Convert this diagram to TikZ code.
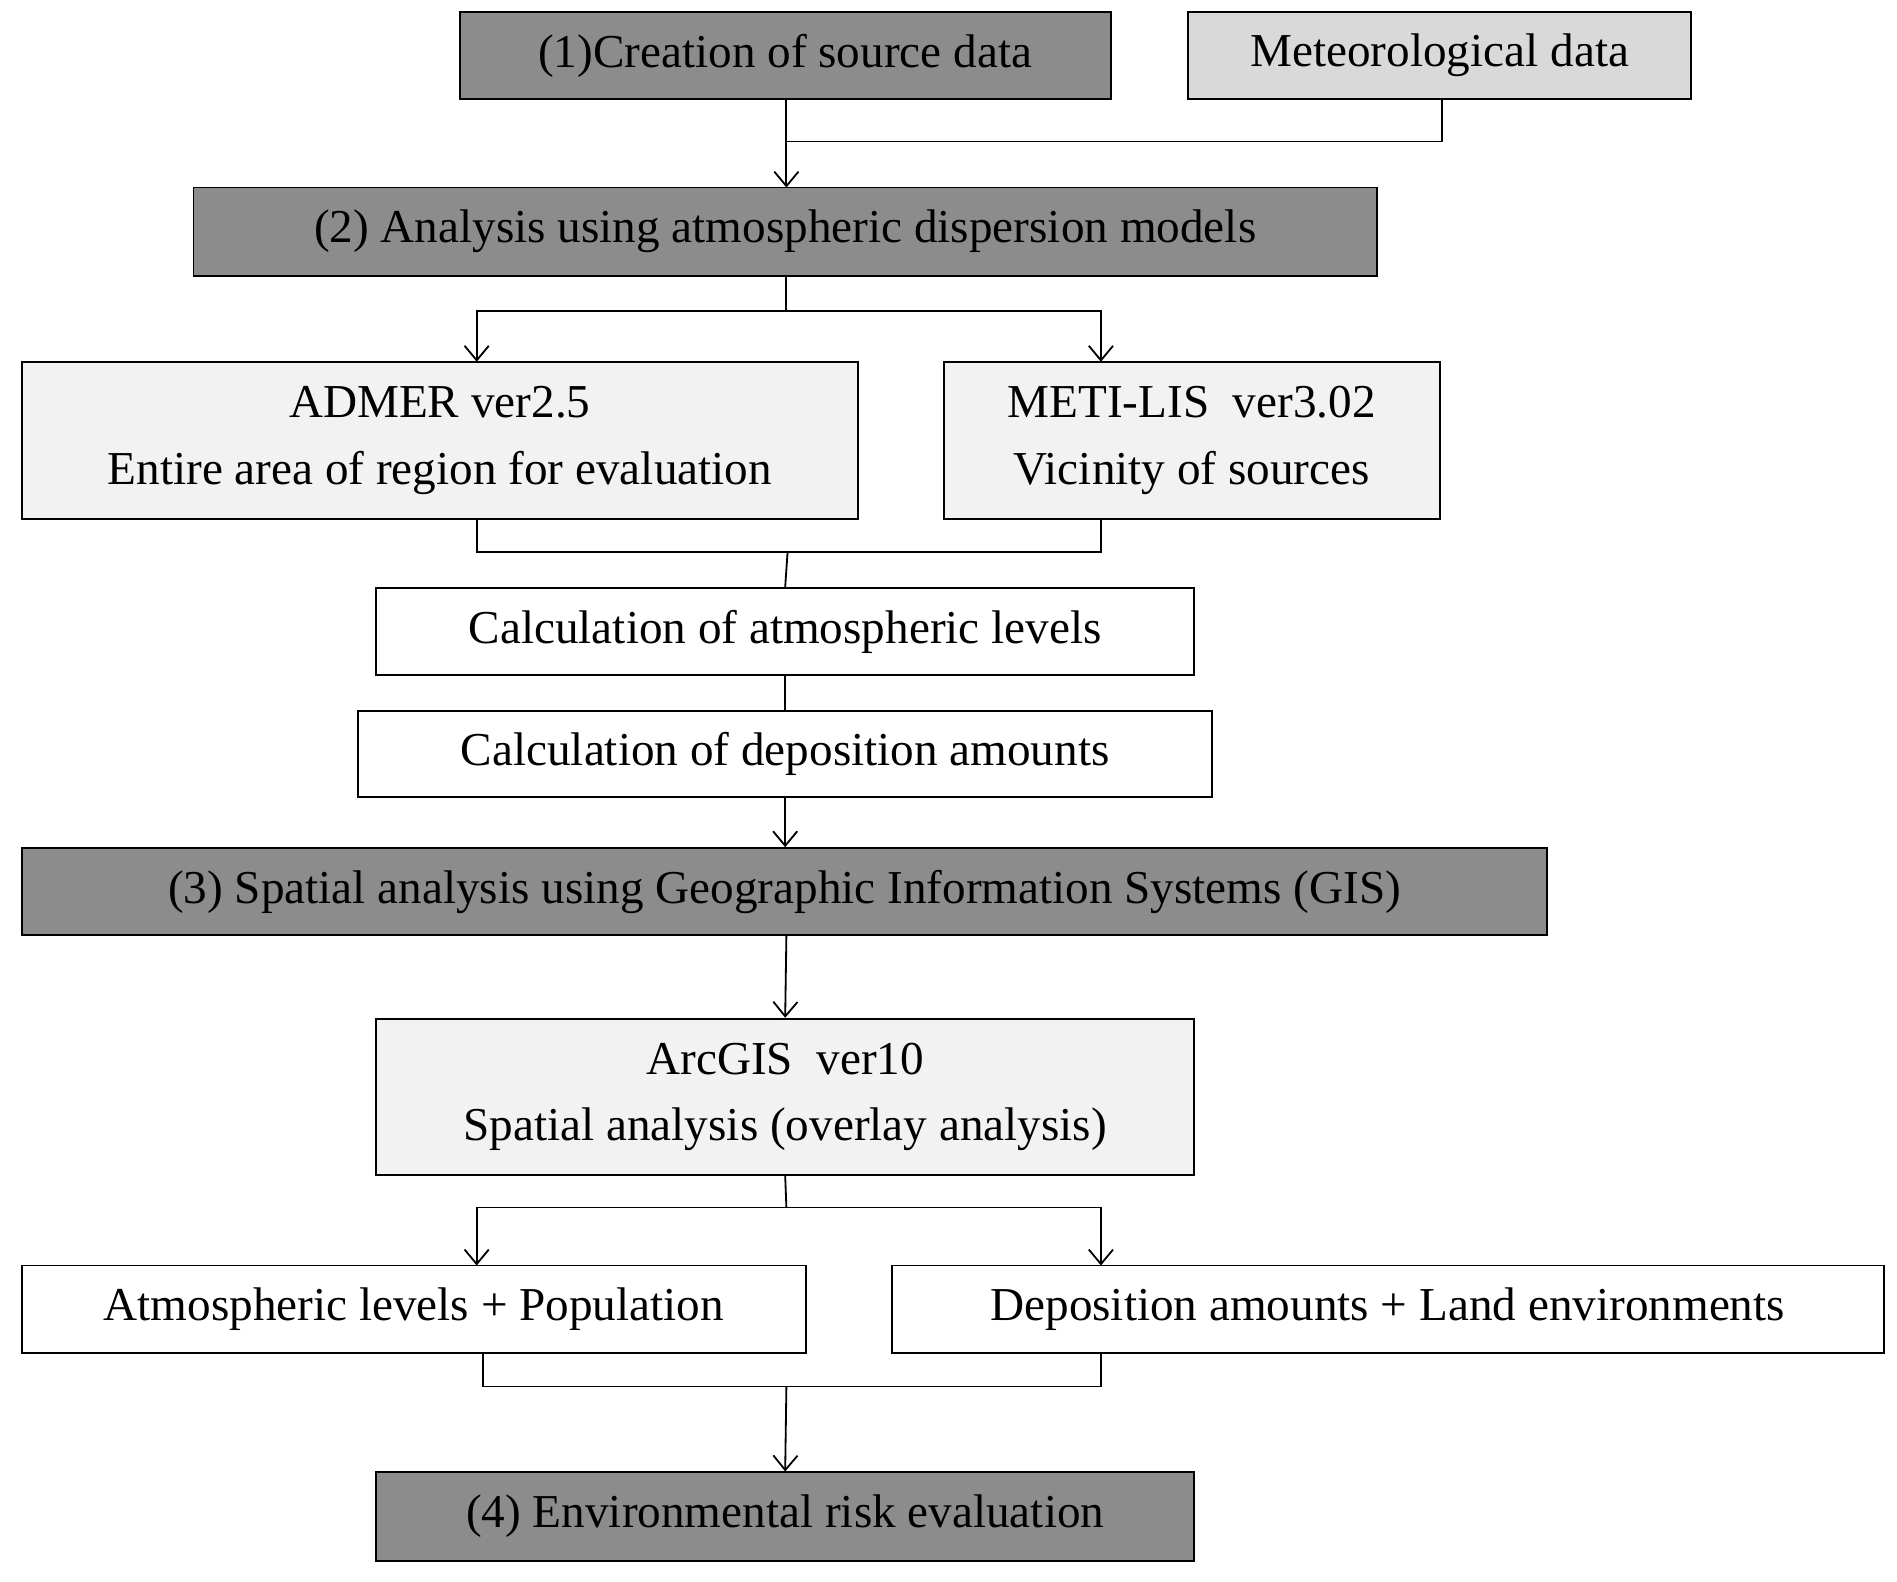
\documentclass[tikz,border=0pt]{standalone}
\usepackage{fontspec}
\setmainfont{Liberation Serif}
\usetikzlibrary{arrows.meta}
\definecolor{dk}{HTML}{8C8C8C}
\definecolor{md}{HTML}{D9D9D9}
\definecolor{lt}{HTML}{F2F2F2}
\begin{document}
\begin{tikzpicture}[x=1pt,y=-1pt,
  bx/.style={draw=black,line width=1.5pt,inner sep=0pt,align=center,font=\fontsize{39}{55}\selectfont},
  ln/.style={line width=1.5pt},
  ar/.style={ln,-{Straight Barb[length=12pt,width=20pt]}}]
\useasboundingbox (0,0) rectangle (1568,1307);
\def\bx#1#2#3#4#5#6#7{\node[bx,fill=#6,minimum width=#3-#1,minimum height=#4-#2] (#5) at ({(#1+#3)/2},{(#2+#4)/2}) {#7};}
\bx{380}{10}{918}{82}{b1}{dk}{(1)Creation of source data}
\bx{982}{10}{1398}{82}{met}{md}{Meteorological data}
\bx{160}{155}{1138}{228}{b2}{dk}{(2) Analysis using atmospheric dispersion models}
\bx{18}{299}{709}{429}{adm}{lt}{ADMER ver2.5\\Entire area of region for evaluation}
\bx{780}{299}{1190}{429}{meti}{lt}{METI-LIS\ \ ver3.02\\Vicinity of sources}
\bx{311}{486}{987}{558}{ca}{white}{Calculation of atmospheric levels}
\bx{296}{588}{1002}{659}{cd}{white}{Calculation of deposition amounts}
\bx{18}{701}{1279}{773}{b3}{dk}{(3) Spatial analysis using Geographic Information Systems (GIS)}
\bx{311}{842}{987}{971}{arc}{lt}{ArcGIS\ \ ver10\\Spatial analysis (overlay analysis)}
\bx{18}{1046}{666}{1118}{ap}{white}{Atmospheric levels + Population}
\bx{737}{1046}{1557}{1118}{dp}{white}{Deposition amounts + Land environments}
\bx{311}{1217}{987}{1290}{b4}{dk}{(4) Environmental risk evaluation}
\coordinate (m1) at (650,117);
\draw[ar] (650,82) -- (650,155);
\draw[ln] (1192,82) |- (m1);
\draw[ln] (650,228) -- (650,257);
\draw[ar] (650,257) -| (394,299);
\draw[ar] (650,257) -| (910,299);
\draw[ln] (394,429) |- (910,456) -- (910,429);
\draw[ln] (651,456) -- (ca.north);
\draw[ln] (ca.south) -- (cd.north);
\draw[ar] (cd.south) -- (b3.north -| cd.south);
\draw[ar] (650,773) -- (arc.north);
\draw[ln] (arc.south) -- (650,998);
\draw[ar] (650,998) -| (394,1046);
\draw[ar] (650,998) -| (910,1046);
\draw[ln] (399,1118) |- (910,1146) -- (910,1118);
\draw[ar] (650,1146) -- (b4.north);
\end{tikzpicture}
\end{document}
